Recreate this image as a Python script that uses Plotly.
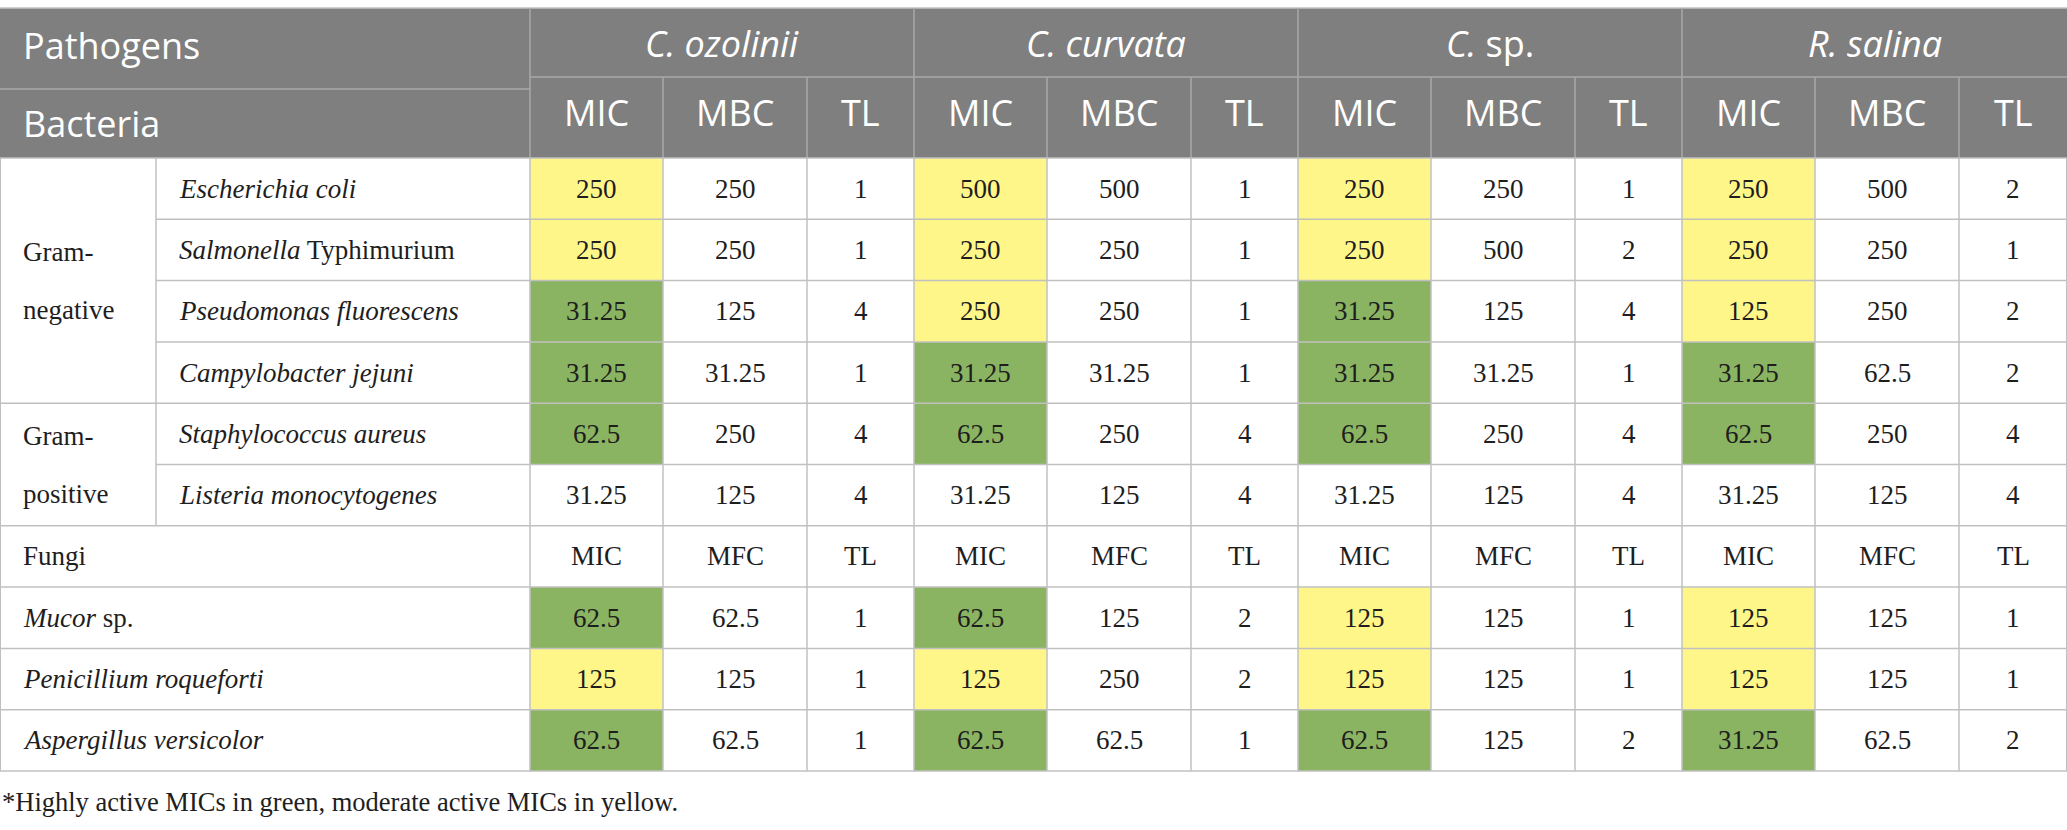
import plotly.graph_objects as go

# ---------------- data ----------------
species = ["<i>C. ozolinii</i>", "<i>C. curvata</i>", "<i>C.</i> sp.", "<i>R. salina</i>"]
bact_metrics = ["MIC", "MBC", "TL"]
fungi_metrics = ["MIC", "MFC", "TL"]

bacteria_groups = ["Gram-<br>negative", "Gram-<br>positive"]
bacteria_group_sizes = [4, 2]
bacteria = ["<i>Escherichia coli</i>", "<i>Salmonella</i> Typhimurium",
            "<i>Pseudomonas fluorescens</i>", "<i>Campylobacter jejuni</i>",
            "<i>Staphylococcus aureus</i>", "<i>Listeria monocytogenes</i>"]
fungi = ["<i>Mucor</i> sp.", "<i>Penicillium roqueforti</i>", "<i>Aspergillus versicolor</i>"]

# bacteria values per species (rows = bacteria)
bact_mic = [
    [250, 250, 31.25, 31.25, 62.5, 31.25],
    [500, 250, 250, 31.25, 62.5, 31.25],
    [250, 250, 31.25, 31.25, 62.5, 31.25],
    [250, 250, 125, 31.25, 62.5, 31.25],
]
bact_mbc = [
    [250, 250, 125, 31.25, 250, 125],
    [500, 250, 250, 31.25, 250, 125],
    [250, 500, 125, 31.25, 250, 125],
    [500, 250, 250, 62.5, 250, 125],
]
bact_tl = [
    [1, 1, 4, 1, 4, 4],
    [1, 1, 1, 1, 4, 4],
    [1, 2, 4, 1, 4, 4],
    [2, 1, 2, 2, 4, 4],
]
# activity class of each MIC: "H" highly active (green), "M" moderate (yellow), "" none
bact_activity = [
    ["M", "M", "H", "H", "H", ""],
    ["M", "M", "M", "H", "H", ""],
    ["M", "M", "H", "H", "H", ""],
    ["M", "M", "M", "H", "H", ""],
]

fungi_mic = [
    [62.5, 125, 62.5],
    [62.5, 125, 62.5],
    [125, 125, 62.5],
    [125, 125, 31.25],
]
fungi_mfc = [
    [62.5, 125, 62.5],
    [125, 250, 62.5],
    [125, 125, 125],
    [125, 125, 62.5],
]
fungi_tl = [
    [1, 1, 1],
    [2, 2, 1],
    [1, 1, 2],
    [1, 1, 2],
]
fungi_activity = [
    ["H", "M", "H"],
    ["H", "M", "H"],
    ["M", "M", "H"],
    ["M", "M", "H"],
]
footnote = "*Highly active MICs in green, moderate active MICs in yellow."

# ---------------- layout constants ----------------
W, H = 2067, 830
TOP = 8
SPECIES_ROW_BOTTOM = 77
PATH_SPLIT = 89
HEADER_BOTTOM = 158
ROW_H = 61.3
SUB_W = 156
LEFT_W = 530
METRIC_W = [133, 144, 107]
PAD = 21

HEADER_BG = "#7f7f7f"
HEADER_LINE = "#a9a9a9"
GRID = "#c0c0c0"
GREEN = "#8ab462"
YELLOW = "#fff68a"
SANS = "Open Sans"
SERIF = "Liberation Serif"
HFS = 36
BFS = 27
FFS = 26.5

fmt = lambda v: f"{v:g}"

# column edges
col_edges = [LEFT_W]
for s in range(len(species)):
    for w in METRIC_W:
        col_edges.append(col_edges[-1] + w)
col_edges[-1] = W

n_rows = len(bacteria) + 1 + len(fungi)
row_edges = [HEADER_BOTTOM + i * ROW_H for i in range(n_rows + 1)]

shapes = []
annotations = []


def rect(x0, y0, x1, y1, color):
    shapes.append(dict(type="rect", xref="x", yref="y", x0=x0, y0=y0, x1=x1, y1=y1,
                       fillcolor=color, line=dict(width=0), layer="below"))


def line(x0, y0, x1, y1, color, width=1.5):
    shapes.append(dict(type="line", xref="x", yref="y", x0=x0, y0=y0, x1=x1, y1=y1,
                       line=dict(color=color, width=width), layer="above"))


def text(x, y, s, family, size, color="#1e1e1e", anchor="center"):
    annotations.append(dict(x=x, y=y, xref="x", yref="y", text=s, showarrow=False,
                            xanchor=anchor, yanchor="middle",
                            font=dict(family=family, size=size, color=color)))


# header background
rect(0, TOP, W, HEADER_BOTTOM, HEADER_BG)

# coloured MIC cells
for si in range(len(species)):
    xm0, xm1 = col_edges[si * 3], col_edges[si * 3 + 1]
    for ri, act in enumerate(bact_activity[si]):
        if act:
            rect(xm0, row_edges[ri], xm1, row_edges[ri + 1], GREEN if act == "H" else YELLOW)
    for fi, act in enumerate(fungi_activity[si]):
        r = len(bacteria) + 1 + fi
        if act:
            rect(xm0, row_edges[r], xm1, row_edges[r + 1], GREEN if act == "H" else YELLOW)

# header lines
line(0, TOP, W, TOP, GRID)
line(0, PATH_SPLIT, LEFT_W, PATH_SPLIT, HEADER_LINE)
line(LEFT_W, SPECIES_ROW_BOTTOM, W, SPECIES_ROW_BOTTOM, HEADER_LINE)
for i, x in enumerate(col_edges[:-1]):
    y0 = TOP if i % 3 == 0 else SPECIES_ROW_BOTTOM
    line(x, y0, x, HEADER_BOTTOM, HEADER_LINE)
line(0, HEADER_BOTTOM, W, HEADER_BOTTOM, GRID)

# body horizontal lines
group_ends = []
acc = 0
for g in bacteria_group_sizes:
    acc += g
    group_ends.append(acc)
for r in range(1, n_rows + 1):
    x0 = 0
    if r <= len(bacteria) and r not in group_ends:
        x0 = SUB_W
    line(x0, row_edges[r], W, row_edges[r], GRID)

# body vertical lines
line(0, HEADER_BOTTOM, 0, row_edges[-1], GRID, 2)
line(W, HEADER_BOTTOM, W, row_edges[-1], GRID, 2)
line(SUB_W, HEADER_BOTTOM, SUB_W, row_edges[len(bacteria)], GRID)
for x in col_edges[:-1]:
    line(x, HEADER_BOTTOM, x, row_edges[-1], GRID)

# header text
text(PAD, (TOP + PATH_SPLIT) / 2 - 3, "Pathogens", SANS, HFS, "white", "left")
text(PAD, (PATH_SPLIT + HEADER_BOTTOM) / 2, "Bacteria", SANS, HFS, "white", "left")
for si, sp in enumerate(species):
    x0, x1 = col_edges[si * 3], col_edges[si * 3 + 3]
    text((x0 + x1) / 2, (TOP + SPECIES_ROW_BOTTOM) / 2 + 1, sp, SANS, HFS, "white")
    for mi, m in enumerate(bact_metrics):
        c0, c1 = col_edges[si * 3 + mi], col_edges[si * 3 + mi + 1]
        text((c0 + c1) / 2, (SPECIES_ROW_BOTTOM + HEADER_BOTTOM) / 2 - 5, m, SANS, HFS, "white")

# bacteria groups
start = 0
for g, n in zip(bacteria_groups, bacteria_group_sizes):
    yc = (row_edges[start] + row_edges[start + n]) / 2
    l1, l2 = g.split("<br>")
    text(PAD, yc - 29, l1, SERIF, BFS, anchor="left")
    text(PAD, yc + 29, l2, SERIF, BFS, anchor="left")
    start += n

# bacteria rows
for ri, b in enumerate(bacteria):
    yc = (row_edges[ri] + row_edges[ri + 1]) / 2
    text(SUB_W + PAD, yc, b, SERIF, BFS, anchor="left")
    for si in range(len(species)):
        vals = [bact_mic[si][ri], bact_mbc[si][ri], bact_tl[si][ri]]
        for mi, v in enumerate(vals):
            c0, c1 = col_edges[si * 3 + mi], col_edges[si * 3 + mi + 1]
            text((c0 + c1) / 2, yc, fmt(v), SERIF, BFS)

# fungi header row
rf = len(bacteria)
yc = (row_edges[rf] + row_edges[rf + 1]) / 2
text(PAD, yc, "Fungi", SERIF, BFS, anchor="left")
for si in range(len(species)):
    for mi, m in enumerate(fungi_metrics):
        c0, c1 = col_edges[si * 3 + mi], col_edges[si * 3 + mi + 1]
        text((c0 + c1) / 2, yc, m, SERIF, BFS)

# fungi rows
for fi, f in enumerate(fungi):
    r = rf + 1 + fi
    yc = (row_edges[r] + row_edges[r + 1]) / 2
    text(PAD, yc, f, SERIF, BFS, anchor="left")
    for si in range(len(species)):
        vals = [fungi_mic[si][fi], fungi_mfc[si][fi], fungi_tl[si][fi]]
        for mi, v in enumerate(vals):
            c0, c1 = col_edges[si * 3 + mi], col_edges[si * 3 + mi + 1]
            text((c0 + c1) / 2, yc, fmt(v), SERIF, BFS)

# footnote
text(0, 802, footnote, SERIF, FFS, anchor="left")

fig = go.Figure()
fig.update_layout(
    width=W, height=H,
    margin=dict(l=0, r=0, t=0, b=0),
    paper_bgcolor="white", plot_bgcolor="white",
    xaxis=dict(range=[0, W], visible=False, fixedrange=True),
    yaxis=dict(range=[H, 0], visible=False, fixedrange=True),
    shapes=shapes, annotations=annotations, showlegend=False,
)
fig.write_html(
    "out.html",
    config={"displayModeBar": False},
    post_script="document.body.style.margin='0';document.body.style.overflow='hidden';",
)
